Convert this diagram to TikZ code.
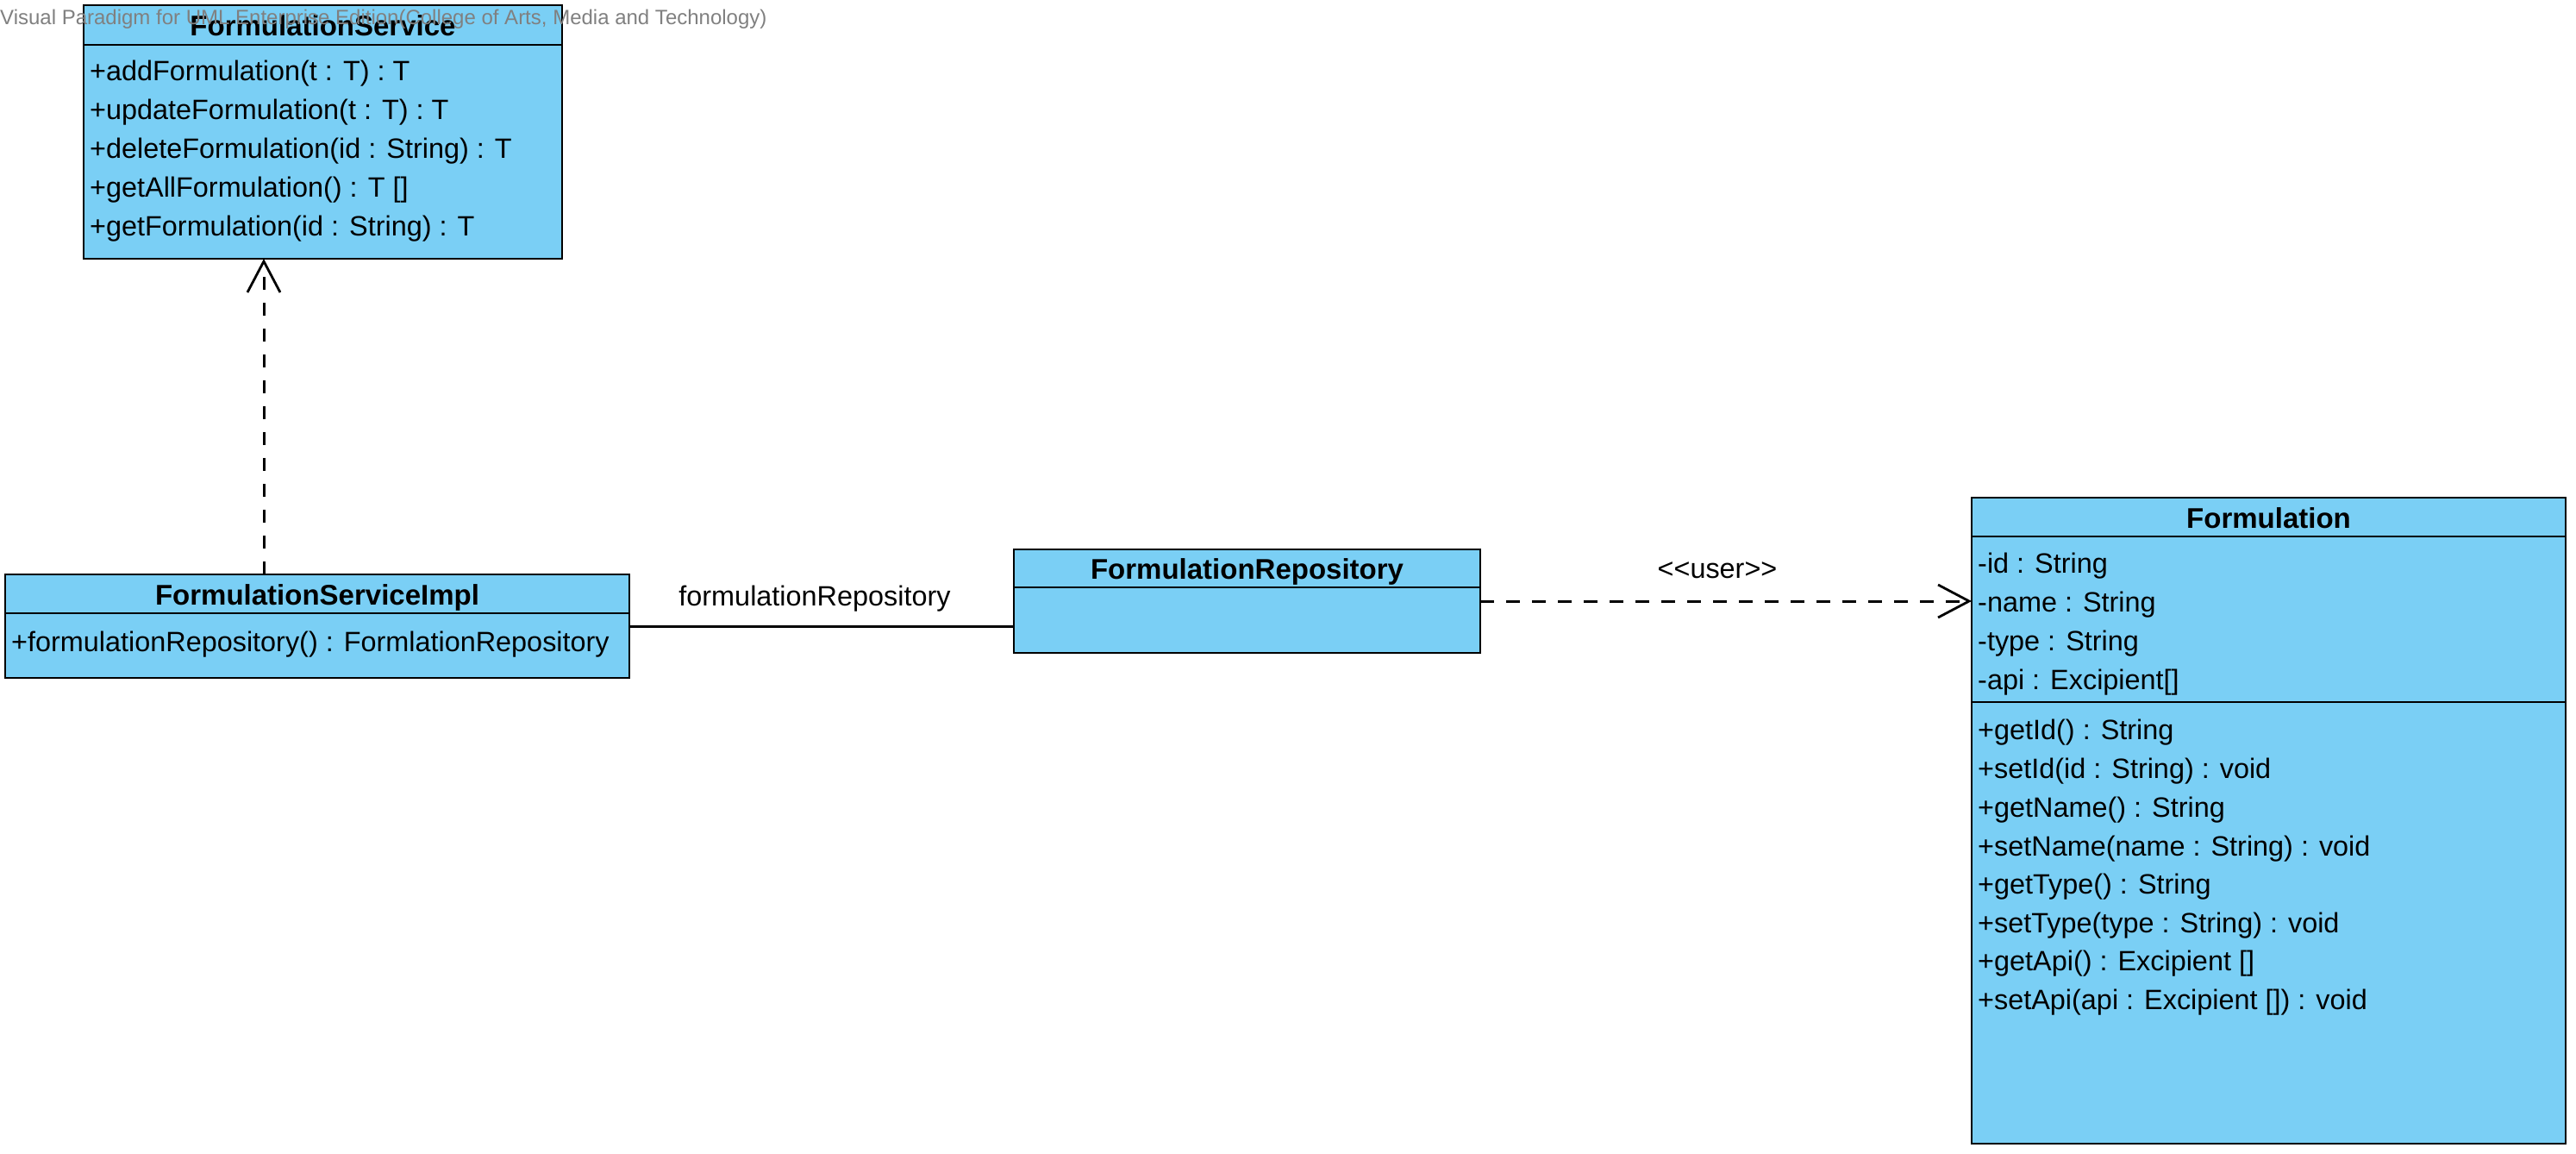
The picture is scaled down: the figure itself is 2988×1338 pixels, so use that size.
\documentclass[tikz,border=0pt]{standalone}
\usepackage{fontspec}
\setmainfont{Liberation Sans}
\usetikzlibrary{arrows.meta}
\definecolor{vpblue}{RGB}{122,207,245}
\definecolor{wmgray}{RGB}{128,128,128}
\tikzset{
  classbox/.style={draw=black, fill=vpblue, line width=2.5pt, anchor=north west, inner sep=0pt, outer sep=0pt},
  divider/.style={line width=2.5pt},
  member/.style={anchor=base west, inner sep=0pt, font=\fontsize{32.4}{40}\selectfont},
  classtitle/.style={anchor=base, inner sep=0pt, font=\fontsize{33}{40}\selectfont\bfseries},
  lbl/.style={anchor=base, inner sep=0pt, font=\fontsize{32.4}{40}\selectfont},
  depline/.style={line width=3pt, dash pattern=on 15.5pt off 14.5pt, -{Straight Barb[length=36pt,width=38pt,line width=2.8pt]}},
  assoc/.style={line width=3pt},
}
\begin{document}
\begin{tikzpicture}[x=1pt,y=-1pt]
\useasboundingbox[fill=white] (0,0) rectangle (2988,1338);

% FormulationService
\node[classbox, minimum width=555pt, minimum height=294pt] (fs) at (97,6) {};
\draw[divider] (97,52) -- (652,52);
\node[classtitle] (fst) at (374.5,42) {FormulationService};
\node[member] (fs1) at (104,93) {+addFormulation(t : T) : T};
\node[member] (fs2) at (104,138) {+updateFormulation(t : T) : T};
\node[member] (fs3) at (104,183) {+deleteFormulation(id : String) : T};
\node[member] (fs4) at (104,228) {+getAllFormulation() : T []};
\node[member] (fs5) at (104,273) {+getFormulation(id : String) : T};

% FormulationServiceImpl
\node[classbox, minimum width=724pt, minimum height=120pt] (impl) at (6,666) {};
\draw[divider] (6,711) -- (730,711);
\node[classtitle] (implt) at (368,701) {FormulationServiceImpl};
\node[member] (impl1) at (13,755) {+formulationRepository() : FormlationRepository};

% FormulationRepository
\node[classbox, minimum width=541pt, minimum height=120pt] (repo) at (1176,637) {};
\draw[divider] (1176,681) -- (1717,681);
\node[classtitle] (repot) at (1446.5,671) {FormulationRepository};

% Formulation
\node[classbox, minimum width=689pt, minimum height=749pt] (form) at (2287,577) {};
\draw[divider] (2287,622) -- (2976,622);
\draw[divider] (2287,814) -- (2976,814);
\node[classtitle] (formt) at (2631.5,612) {Formulation};
\node[member] (fa1) at (2294,664) {-id : String};
\node[member] (fa2) at (2294,709) {-name : String};
\node[member] (fa3) at (2294,754) {-type : String};
\node[member] (fa4) at (2294,799) {-api : Excipient[]};
\node[member] (fm1) at (2294,857) {+getId() : String};
\node[member] (fm2) at (2294,902) {+setId(id : String) : void};
\node[member] (fm3) at (2294,947) {+getName() : String};
\node[member] (fm4) at (2294,992) {+setName(name : String) : void};
\node[member] (fm5) at (2294,1036) {+getType() : String};
\node[member] (fm6) at (2294,1081) {+setType(type : String) : void};
\node[member] (fm7) at (2294,1125) {+getApi() : Excipient []};
\node[member] (fm8) at (2294,1170) {+setApi(api : Excipient []) : void};

% connectors
\coordinate (rx) at (306,0);
\draw[depline] (impl.north -| rx) -- (fs.south -| rx);
\draw[assoc] (impl.east) -- (impl.east -| repo.west);
\node[lbl] (assoclbl) at (945,702) {formulationRepository};
\draw[depline] (repo.east) -- (repo.east -| form.west);
\node[lbl] (userlbl) at (1992,670) {<{}<user>{}>};

% watermark
\node[anchor=base west, inner sep=0pt, text=wmgray, font=\fontsize{24}{28}\selectfont] (wm) at (0,29) {Visual Paradigm for UML Enterprise Edition(College of Arts, Media and Technology)};
\end{tikzpicture}
\end{document}
